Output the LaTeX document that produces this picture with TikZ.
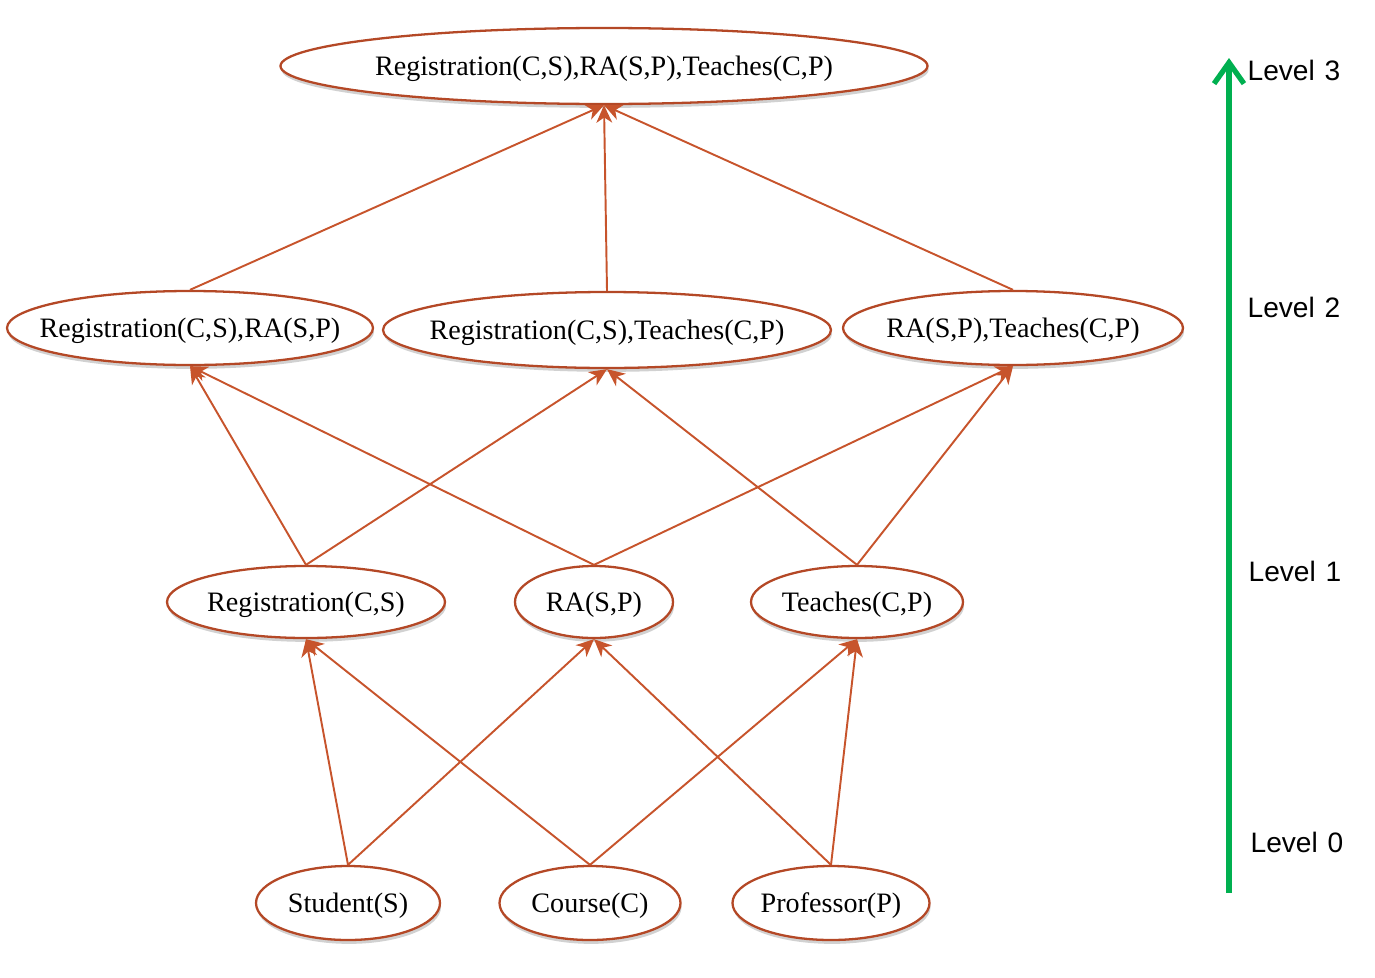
\documentclass[tikz,border=0pt]{standalone}
\usepackage{fontspec}
\setmainfont{Liberation Serif}
\newfontfamily\lvlfont{Liberation Sans}
\usetikzlibrary{shapes.geometric,arrows.meta,shadows}
\definecolor{edgec}{RGB}{199,84,44}
\definecolor{bordc}{RGB}{180,72,38}
\definecolor{lvlgreen}{RGB}{0,176,80}
\newcommand{\ctxt}[1]{\makebox[0pt][c]{\smash{\raisebox{-5.3pt}{#1}}}}
\tikzset{
  el/.style 2 args={ellipse, draw=bordc, line width=1.3pt, fill=white, inner sep=0pt,
    minimum width=#1*0.02cm, minimum height=#2*0.02cm,
    font=\fontsize{16}{19}\selectfont,
    drop shadow={shadow xshift=0.6pt, shadow yshift=-2.2pt, opacity=0.3, fill=black!60}},
  edge/.style={draw=edgec, line width=1.1pt, -{Stealth[length=10pt,width=9pt,inset=3pt]}},
  lvl/.style={font=\lvlfont\fontsize{16}{19}\selectfont, anchor=center}
}
\begin{document}
\begin{tikzpicture}[x=0.02cm,y=-0.02cm]
\useasboundingbox (0,0) rectangle (1375,977);
% level 3
\node[el={647}{76}] (top) at (604,66) {\ctxt{Registration(C,S),RA(S,P),Teaches(C,P)}};
% level 2
\node[el={366}{74}] (l2a) at (190,328) {\ctxt{Registration(C,S),RA(S,P)}};
\node[el={448}{76}] (l2b) at (607,330) {\ctxt{Registration(C,S),Teaches(C,P)}};
\node[el={340}{74}] (l2c) at (1013,328) {\ctxt{RA(S,P),Teaches(C,P)}};
% level 1
\node[el={278}{72}] (l1a) at (306,602) {\ctxt{Registration(C,S)}};
\node[el={158}{72}] (l1b) at (594,602) {\ctxt{RA(S,P)}};
\node[el={212}{72}] (l1c) at (857,602) {\ctxt{Teaches(C,P)}};
% level 0
\node[el={184}{74}] (l0a) at (348,903) {\ctxt{Student(S)}};
\node[el={181}{74}] (l0b) at (590,903) {\ctxt{Course(C)}};
\node[el={197}{74}] (l0c) at (831,903) {\ctxt{Professor(P)}};
% edges
\draw[edge] (l0a.north) -- (l1a.south);
\draw[edge] (l0a.north) -- (l1b.south);
\draw[edge] (l0b.north) -- (l1a.south);
\draw[edge] (l0b.north) -- (l1c.south);
\draw[edge] (l0c.north) -- (l1b.south);
\draw[edge] (l0c.north) -- (l1c.south);
\draw[edge] (l1a.north) -- (l2a.south);
\draw[edge] (l1a.north) -- (l2b.south);
\draw[edge] (l1b.north) -- (l2a.south);
\draw[edge] (l1b.north) -- (l2c.south);
\draw[edge] (l1c.north) -- (l2b.south);
\draw[edge] (l1c.north) -- (l2c.south);
\draw[edge] (l2a.north) -- (top.south);
\draw[edge] (l2b.north) -- (top.south);
\draw[edge] (l2c.north) -- (top.south);
% level axis
\coordinate (axb) at (1229,893);
\coordinate (axt) at (1229,58);
\draw[draw=lvlgreen, line width=3pt, -{Straight Barb[length=12pt,width=17pt,line width=3pt]}] (axb) -- (axt);
\node[lvl] (lv3) at (1294,70) {Level\hspace{0.35em}3};
\node[lvl] (lv2) at (1294,307) {Level\hspace{0.35em}2};
\node[lvl] (lv1) at (1295,571) {Level\hspace{0.35em}1};
\node[lvl] (lv0) at (1297,842) {Level\hspace{0.35em}0};
\end{tikzpicture}
\end{document}
